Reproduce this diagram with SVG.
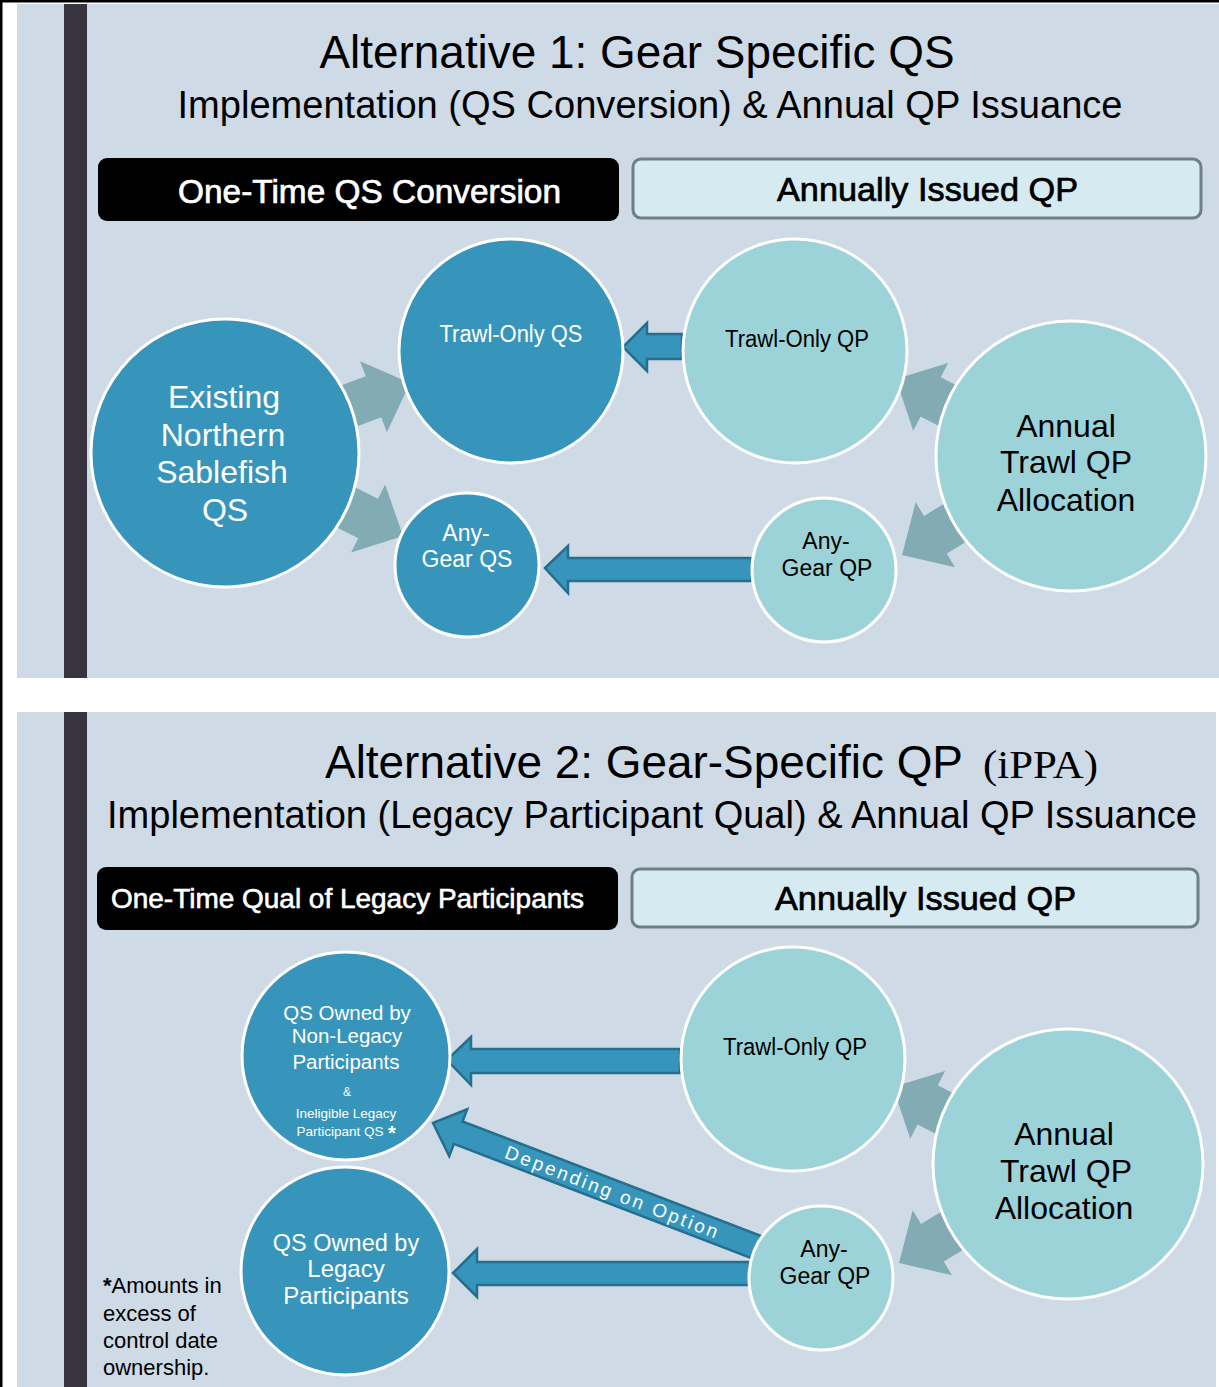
<svg xmlns="http://www.w3.org/2000/svg" width="1219" height="1387" viewBox="0 0 1219 1387">
<style>
.bg{fill:#CEDAE5}
.bar{fill:#37333F}
.dk{fill:#3795BC;stroke:#FFFFFF;stroke-width:3}
.lt{fill:#9CD3D8;stroke:#FFFFFF;stroke-width:3}
.ga{fill:#82ABB4}
.ba{fill:#3795BC;stroke:#246F8E;stroke-width:2.5;stroke-linejoin:miter}
.bbox{fill:#000000}
.lbox{fill:#D5EAF1;stroke:#6F7F86;stroke-width:3}
text{font-family:"Liberation Sans",Arial,sans-serif}
.t1{font-size:46px;fill:#000}
.t2{font-size:38px;fill:#000}
.hw{font-size:33px;fill:#fff;stroke:#fff;stroke-width:0.7px}
.hb{font-size:33px;fill:#000;stroke:#000;stroke-width:0.7px}
.w32{font-size:32px;fill:#fff;text-anchor:middle}
.k32{font-size:32px;fill:#000;text-anchor:middle}
.w23{font-size:23px;fill:#fff;text-anchor:middle}
.k23{font-size:23px;fill:#000;text-anchor:middle}
.w20{font-size:20.5px;fill:#fff;text-anchor:middle}
.w13{font-size:13.5px;fill:#fff;text-anchor:middle}
.fn{font-size:22px;fill:#000}
</style>
<defs>
<polygon id="garrow" points="0,0 -39,-38 -39,-22 -115,-22 -115,22 -39,22 -39,38"/>
</defs>

<!-- frame -->
<rect x="0" y="0" width="1219" height="1387" fill="#FFFFFF"/>
<rect x="0" y="0" width="2.5" height="1387" fill="#000"/>
<rect x="0" y="0" width="1219" height="2.5" fill="#000"/>

<!-- Panel 1 -->
<g id="panel1">
<rect class="bg" x="17" y="4" width="1202" height="674"/>
<rect class="bar" x="64" y="4" width="23" height="674"/>
<text class="t1" x="637" y="68" text-anchor="middle" textLength="635" lengthAdjust="spacingAndGlyphs">Alternative 1: Gear Specific QS</text>
<text class="t2" x="650" y="118" text-anchor="middle" textLength="945" lengthAdjust="spacingAndGlyphs">Implementation (QS Conversion) &amp; Annual QP Issuance</text>
</g>
<g id="hdr1-onetime">
<rect class="bbox" x="98" y="158" width="521" height="63" rx="9"/>
<text class="hw" x="178" y="203" textLength="383" lengthAdjust="spacingAndGlyphs">One-Time QS Conversion</text>
</g>
<g id="hdr1-annual">
<rect class="lbox" x="633" y="159" width="568" height="59" rx="8"/>
<text class="hb" x="777" y="201" textLength="301" lengthAdjust="spacingAndGlyphs">Annually Issued QP</text>
</g>

<!-- Panel 2 -->
<g id="panel2">
<rect class="bg" x="17" y="712" width="1199" height="675"/>
<rect class="bar" x="64" y="712" width="23" height="675"/>
<text class="t1" x="325" y="778" textLength="638" lengthAdjust="spacingAndGlyphs">Alternative 2: Gear-Specific QP</text>
<text x="983" y="778" style="font-family:'Liberation Serif','Times New Roman',serif;font-size:40px;fill:#000" textLength="115" lengthAdjust="spacingAndGlyphs">(iPPA)</text>
<text class="t2" x="107" y="828" textLength="1090" lengthAdjust="spacingAndGlyphs">Implementation (Legacy Participant Qual) &amp; Annual QP Issuance</text>
</g>
<g id="hdr2-onetime">
<rect class="bbox" x="97" y="867" width="521" height="63" rx="9"/>
<text x="111" y="908" style="font-size:27px;fill:#fff;stroke:#fff;stroke-width:0.6px" textLength="473" lengthAdjust="spacingAndGlyphs">One-Time Qual of Legacy Participants</text>
</g>
<g id="hdr2-annual">
<rect class="lbox" x="632" y="869" width="566" height="58" rx="8"/>
<text class="hb" x="775" y="910" textLength="301" lengthAdjust="spacingAndGlyphs">Annually Issued QP</text>
</g>

<!-- connectors -->
<g id="connectors">
<use href="#garrow" class="ga" transform="translate(410,383) rotate(-20.6)"/>
<use href="#garrow" class="ga" transform="translate(403,536) rotate(26.6)"/>
<use href="#garrow" class="ga" transform="translate(896,379) rotate(-152.7)"/>
<use href="#garrow" class="ga" transform="translate(902,555) rotate(148.8)"/>
<use href="#garrow" class="ga" transform="translate(893,1087) rotate(-152.7)"/>
<use href="#garrow" class="ga" transform="translate(899,1263) rotate(148.8)"/>
<polygon class="ba" points="623,347 647,323 647,334 682,334 682,359 647,359 647,371"/>
<polygon class="ba" points="545,568 568,546 568,558 752,558 752,581 568,581 568,593"/>
<polygon class="ba" points="447,1060 471,1037 471,1049 680,1049 680,1073 471,1073 471,1085"/>
<polygon class="ba" points="453,1273 477,1249 477,1262 750,1262 750,1285 477,1285 477,1297"/>
<g transform="translate(433,1123) rotate(201)">
<polygon class="ba" points="0,0 -27,-25 -27,-12 -352,-12 -352,12 -27,12 -27,25"/>
</g>
<text transform="translate(613,1192) rotate(21)" x="0" y="7" text-anchor="middle" style="font-size:19px;fill:#fff;letter-spacing:2.6px">Depending on Option</text>
</g>

<!-- Panel 1 nodes -->
<g id="existing-qs">
<circle class="dk" cx="225" cy="453" r="134"/>
<text class="w32" x="224" y="408">Existing</text>
<text class="w32" x="223" y="446">Northern</text>
<text class="w32" x="222" y="483">Sablefish</text>
<text class="w32" x="225" y="521">QS</text>
</g>
<g id="trawl-only-qs">
<circle class="dk" cx="511" cy="351" r="112"/>
<text class="w23" x="511" y="342" textLength="143" lengthAdjust="spacingAndGlyphs">Trawl-Only QS</text>
</g>
<g id="any-gear-qs">
<circle class="dk" cx="467" cy="565" r="72"/>
<text class="w23" x="466" y="541">Any-</text>
<text class="w23" x="467" y="567">Gear QS</text>
</g>
<g id="trawl-only-qp-1">
<circle class="lt" cx="795" cy="351" r="112"/>
<text class="k23" x="797" y="347" textLength="144" lengthAdjust="spacingAndGlyphs">Trawl-Only QP</text>
</g>
<g id="annual-trawl-1">
<circle class="lt" cx="1071" cy="456" r="135"/>
<text class="k32" x="1066" y="437">Annual</text>
<text class="k32" x="1066" y="473">Trawl QP</text>
<text class="k32" x="1066" y="511">Allocation</text>
</g>
<g id="any-gear-qp-1">
<circle class="lt" cx="824" cy="570" r="72"/>
<text class="k23" x="826" y="549">Any-</text>
<text class="k23" x="827" y="576">Gear QP</text>
</g>

<!-- Panel 2 nodes -->
<g id="nonlegacy-qs">
<circle class="dk" cx="346" cy="1056" r="104"/>
<text class="w20" x="347" y="1020">QS Owned by</text>
<text class="w20" x="347" y="1043">Non-Legacy</text>
<text class="w20" x="346" y="1069">Participants</text>
<text class="w13" x="347" y="1096" style="font-size:12px">&amp;</text>
<text class="w13" x="346" y="1118">Ineligible Legacy</text>
<text class="w13" x="340" y="1136">Participant QS</text>
<text x="392" y="1140" style="font-size:20px;font-weight:bold;fill:#fff;text-anchor:middle">*</text>
</g>
<g id="legacy-qs">
<circle class="dk" cx="345" cy="1271" r="104"/>
<text class="w23" x="346" y="1251" style="font-size:23.5px">QS Owned by</text>
<text class="w23" x="346" y="1277" style="font-size:24px">Legacy</text>
<text class="w23" x="346" y="1304" style="font-size:24px">Participants</text>
</g>
<g id="trawl-only-qp-2">
<circle class="lt" cx="793" cy="1059" r="112"/>
<text class="k23" x="795" y="1055" textLength="144" lengthAdjust="spacingAndGlyphs">Trawl-Only QP</text>
</g>
<g id="annual-trawl-2">
<circle class="lt" cx="1068" cy="1164" r="135"/>
<text class="k32" x="1064" y="1145">Annual</text>
<text class="k32" x="1066" y="1182">Trawl QP</text>
<text class="k32" x="1064" y="1219">Allocation</text>
</g>
<g id="any-gear-qp-2">
<circle class="lt" cx="821" cy="1278" r="72"/>
<text class="k23" x="824" y="1257">Any-</text>
<text class="k23" x="825" y="1284">Gear QP</text>
</g>

<!-- footnote -->
<g id="footnote">
<text class="fn" x="103" y="1293"><tspan style="font-weight:bold">*</tspan>Amounts in</text>
<text class="fn" x="103" y="1321">excess of</text>
<text class="fn" x="103" y="1348">control date</text>
<text class="fn" x="103" y="1375">ownership.</text>
</g>
</svg>
